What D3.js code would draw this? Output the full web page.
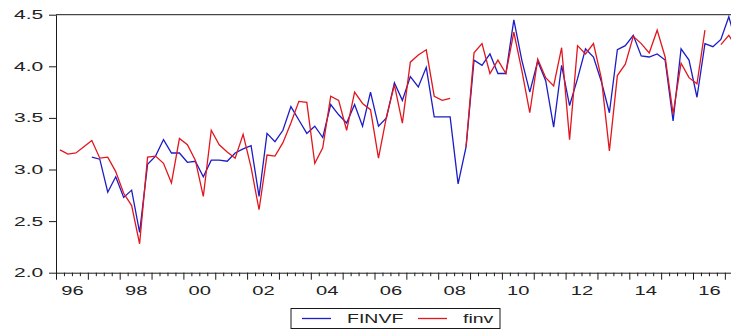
<!DOCTYPE html>
<html>
<head>
<meta charset="utf-8">
<script src="https://cdn.jsdelivr.net/npm/d3@7"></script>
<style>
  html, body { margin: 0; padding: 0; background: #fff; }
  svg { display: block; font-family: "Liberation Sans", Arial, sans-serif; }
</style>
</head>
<body>
<svg id="chart" width="731" height="329"></svg>
<script>
// Quarterly observations, 1996Q1 onward
const startYear = 1996;

const finvf = [
  null, null, null, null, 3.12, 3.10, 2.78, 2.93, 2.73, 2.80,
  2.39, 3.05, 3.13, 3.29, 3.16, 3.16, 3.07, 3.08, 2.93, 3.09,
  3.09, 3.08, 3.16, 3.20, 3.23, 2.74, 3.35, 3.27, 3.38, 3.61,
  3.48, 3.35, 3.42, 3.31, 3.63, 3.53, 3.45, 3.63, 3.42, 3.75,
  3.42, 3.50, 3.84, 3.67, 3.90, 3.80, 3.99, 3.51, 3.51, 3.51,
  2.86, 3.22, 4.06, 4.01, 4.12, 3.93, 3.93, 4.45, 4.06, 3.75,
  4.05, 3.86, 3.41, 4.01, 3.62, 3.88, 4.17, 4.09, 3.85, 3.55,
  4.16, 4.20, 4.30, 4.10, 4.09, 4.12, 4.06, 3.47, 4.17, 4.06,
  3.70, 4.22, 4.19, 4.26, 4.48, 4.20
];

const finv = [
  3.19, 3.15, 3.16, 3.22, 3.28, 3.11, 3.12, 2.98, 2.77, 2.65,
  2.28, 3.12, 3.13, 3.06, 2.87, 3.30, 3.24, 3.09, 2.74, 3.38,
  3.24, 3.17, 3.11, 3.34, 3.02, 2.61, 3.14, 3.13, 3.26, 3.45,
  3.66, 3.65, 3.06, 3.21, 3.71, 3.67, 3.38, 3.75, 3.64, 3.58,
  3.11, 3.51, 3.82, 3.45, 4.04, 4.11, 4.16, 3.71, 3.67, 3.69,
  null, 3.22, 4.13, 4.22, 3.93, 4.06, 3.93, 4.33, 3.96, 3.55,
  4.07, 3.89, 3.81, 4.18, 3.29, 4.20, 4.12, 4.22, 3.88, 3.18,
  3.91, 4.02, 4.29, 4.22, 4.13, 4.35, 4.09, 3.54, 4.03, 3.89,
  3.83, 4.35, null, 4.21, 4.30, 4.18
];

const yTicks = [2.0, 2.5, 3.0, 3.5, 4.0, 4.5];
const yearLabels = ["96", "98", "00", "02", "04", "06", "08", "10", "12", "14", "16"];
const seriesNames = ["FINVF", "finv"];
const seriesColors = ["#1c1cc8", "#e2161c"];

// Layout
const plotLeft = 56, plotTop = 14.7, plotBottom = 272.7;
const yearWidth = 31.85;
const endYear = 2017.5;

const svg = d3.select("#chart");
const x = d3.scaleLinear().domain([startYear, endYear]).range([plotLeft, plotLeft + (endYear - startYear) * yearWidth]);
const y = d3.scaleLinear().domain([2.0, 4.5]).range([plotBottom, plotTop]);

// observation i sits in the middle of its quarter
const t = finv.map((_, i) => startYear + i / 4 + 0.125);

const textColor = "#222";
const axisColor = "#1a1a1a";
const hStretch = 1.68;

// Y axis
const gy = svg.append("g")
  .attr("transform", `translate(${plotLeft},0)`)
  .call(d3.axisLeft(y).tickValues(yTicks).tickSize(7).tickSizeOuter(0).tickFormat(d3.format(".1f")));
gy.select(".domain").attr("stroke", axisColor);
gy.selectAll(".tick line").attr("stroke", axisColor);
gy.selectAll(".tick text")
  .attr("x", -7.6)
  .attr("transform", `scale(${hStretch},1)`)
  .attr("fill", textColor)
  .style("font-size", "12.5px")
  .style("font-family", "'Liberation Sans', Arial, sans-serif");

// X axis: year ticks, quarter ticks and two-year labels
const years = d3.range(startYear, Math.floor(endYear) + 1);
const quarterTicks = [];
years.forEach(yr => { [0.25, 0.5, 0.75].forEach(f => { if (yr + f <= endYear) quarterTicks.push(yr + f); }); });

const gxMajor = svg.append("g")
  .attr("transform", `translate(0,${plotBottom})`)
  .call(d3.axisBottom(x).tickValues(years).tickSize(7).tickSizeOuter(0).tickFormat(""));
gxMajor.select(".domain").attr("stroke", axisColor);
gxMajor.selectAll(".tick line").attr("stroke", axisColor);

const gxMinor = svg.append("g")
  .attr("transform", `translate(0,${plotBottom})`)
  .call(d3.axisBottom(x).tickValues(quarterTicks).tickSize(3.5).tickSizeOuter(0).tickFormat(""));
gxMinor.select(".domain").remove();
gxMinor.selectAll(".tick line").attr("stroke", axisColor);

const labelYears = yearLabels.map((_, k) => startYear + 2 * k + 0.5);
const gxLab = svg.append("g")
  .attr("transform", `translate(0,${plotBottom})`)
  .call(d3.axisBottom(x).tickValues(labelYears).tickSize(0).tickPadding(14)
    .tickFormat((d, k) => yearLabels[k]));
gxLab.select(".domain").remove();
gxLab.selectAll(".tick text")
  .attr("transform", `scale(${hStretch},1)`)
  .attr("fill", textColor)
  .style("font-size", "12px")
  .style("font-family", "'Liberation Sans', Arial, sans-serif");

// Top frame line
svg.append("line")
  .attr("x1", plotLeft).attr("x2", x(endYear))
  .attr("y1", plotTop).attr("y2", plotTop)
  .attr("stroke", axisColor);

// Series
const line = d3.line()
  .defined(d => d != null)
  .x((d, i) => x(t[i]))
  .y(d => y(d));

[finvf, finv].forEach((s, k) => {
  svg.append("path")
    .datum(s)
    .attr("fill", "none")
    .attr("stroke", seriesColors[k])
    .attr("stroke-width", 1.3)
    .attr("stroke-linejoin", "miter")
    .attr("d", line);
});

// Legend
const lg = svg.append("g");
lg.append("rect")
  .attr("x", 291).attr("y", 308.5).attr("width", 209).attr("height", 20)
  .attr("fill", "#fff").attr("stroke", axisColor);
const legendItems = [
  { x: 302, tx: 347 },
  { x: 418, tx: 463 }
];
legendItems.forEach((it, k) => {
  lg.append("line")
    .attr("x1", it.x).attr("x2", it.x + 29)
    .attr("y1", 318.5).attr("y2", 318.5)
    .attr("stroke", seriesColors[k]).attr("stroke-width", 1.3);
  lg.append("g")
    .attr("transform", `translate(${it.tx},323.2)`)
    .append("text")
    .attr("transform", "scale(1.5,1)")
    .attr("fill", textColor)
    .style("font-size", "13px")
    .text(seriesNames[k]);
});
</script>
</body>
</html>
